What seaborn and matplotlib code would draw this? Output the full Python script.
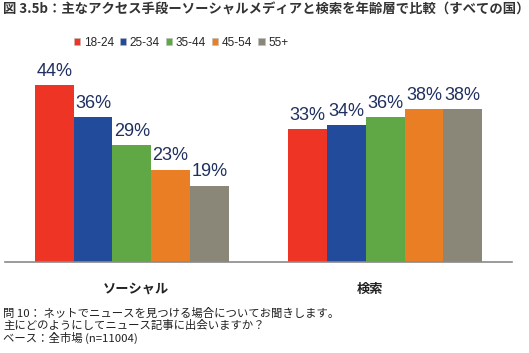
import matplotlib
matplotlib.use("Agg")
import matplotlib.pyplot as plt
from matplotlib import font_manager
from matplotlib.patches import Patch
from matplotlib.transforms import ScaledTranslation
import seaborn as sns
import pandas as pd

# ---- data ----
categories = ["ソーシャル", "検索"]
age_groups = ["18-24", "25-34", "35-44", "45-54", "55+"]
social_values = [44, 36, 29, 23, 19]
search_values = [33, 34, 36, 38, 38]
colors = ["#EE3424", "#224B9B", "#5FA845", "#E97E24", "#8B8778"]

title = "図 3.5b：主なアクセス手段ーソーシャルメディアと検索を年齢層で比較（すべての国）"
footer = ["問 10： ネットでニュースを見つける場合についてお聞きします。",
          "主にどのようにしてニュース記事に出会いますか？",
          "ベース：全市場 (n=11004)"]

rows = []
for cat, vals in zip(categories, [social_values, search_values]):
    for g, v in zip(age_groups, vals):
        rows.append({"category": cat, "age": g, "value": v})
df = pd.DataFrame(rows)

sns.set_theme(style="white")
available = {f.name for f in font_manager.fontManager.ttflist}
narrow = "Liberation Sans Narrow" if "Liberation Sans Narrow" in available else "Liberation Sans"
cjk = "Noto Sans CJK JP"
plt.rcParams["font.family"] = [cjk, "DejaVu Sans"]

fig = plt.figure(figsize=(5.29, 3.53), dpi=100)
ax = fig.add_axes([5/529, (353-262)/353, 507/529, 201/353])

sns.barplot(data=df, x="category", y="value", hue="age", order=categories,
            hue_order=age_groups, palette=colors, width=0.765, gap=0,
            linewidth=0, saturation=1, ax=ax, legend=False, errorbar=None)

ax.set_ylim(0, 50)
ax.set_xlim(-0.5, 1.5)
ax.set_ylabel("")
ax.set_xlabel("")
ax.set_yticks([])
for s in ["top", "right", "left"]:
    ax.spines[s].set_visible(False)
ax.spines["bottom"].set_color("#8a8a8a")
ax.spines["bottom"].set_linewidth(1.2)

for cont in ax.containers:
    ax.bar_label(cont, labels=[f"{int(v)}%" for v in cont.datavalues],
                 padding=4, fontsize=13, color="#1f2f5f", family=[narrow, "DejaVu Sans"])

ax.set_xticks([0, 1])
ax.set_xticklabels(categories, fontsize=9.5, fontweight="bold", color="#222222",
                   family=[cjk, "DejaVu Sans"])
ax.set_xticks([-0.5, 0.5, 1.5], minor=True)
ax.tick_params(axis="x", which="major", length=0, pad=14)
ax.tick_params(axis="x", which="minor", length=3, width=1, color="#8a8a8a", direction="out")
for lbl, dx in zip(ax.get_xticklabels(), [4, -15]):
    lbl.set_transform(lbl.get_transform() + ScaledTranslation(dx/100, 0, fig.dpi_scale_trans))

handles = [Patch(facecolor=c, edgecolor="#bbbbbb", linewidth=0.4) for c in colors]
fig.legend(handles, age_groups, loc="center", bbox_to_anchor=(181/529, 1-43/353),
           ncol=5, frameon=False, handlelength=0.55, handleheight=0.55,
           handletextpad=0.3, columnspacing=0.5, borderpad=0,
           prop={"family": ["Liberation Sans", "DejaVu Sans"], "size": 8.5})

fig.text(3/529, 1-10/353, title, fontsize=9.6, fontweight="bold", color="#333333",
         va="center", ha="left", family=[cjk, "DejaVu Sans"])

for i, line in enumerate(footer):
    fig.text(3/529, 1-(313 + i*12.3)/353, line, fontsize=8.2, color="#222222",
             va="center", ha="left", family=[cjk, "DejaVu Sans"])

fig.savefig("out.png", dpi=100, facecolor="white")
